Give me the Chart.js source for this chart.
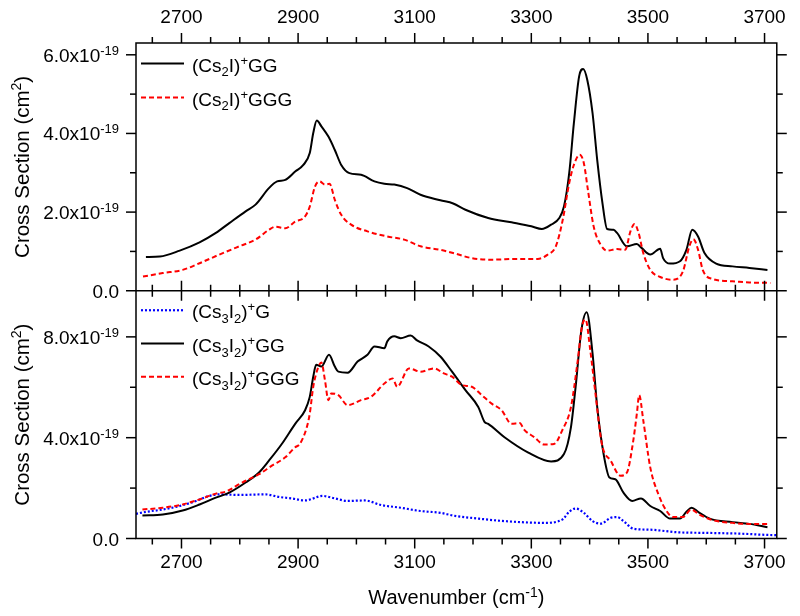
<!DOCTYPE html>
<html><head><meta charset="utf-8">
<script src="https://cdn.jsdelivr.net/npm/chart.js@4.4.1/dist/chart.umd.min.js"></script>
<style>html,body{margin:0;padding:0;background:#fff;}</style>
</head><body>
<canvas id="c" width="800" height="616"></canvas>
<script>
// ---------- axis settings ----------
const X_MIN = 2622, X_MAX = 3721;
const X_TICKS = [2700, 2900, 3100, 3300, 3500, 3700];
const X_MINOR_STEP = 50;
const Y_TOP_MAX = 6.3;
const Y_TOP_TICKS = [0, 2, 4, 6];
const Y_TOP_MINOR = [1, 3, 5];
const Y_BOT_MAX = 9.83;
const Y_BOT_TICKS = [0, 4, 8];
const Y_BOT_MINOR = [2, 6];
const Y_EXP = '-19';            // values below are in units of 1e-19 cm^2
const X_TITLE = 'Wavenumber (cm^{-1})';
const Y_TITLE = 'Cross Section (cm^2)';

// ---------- top panel: (Cs2I)+GG ----------
const top_gg_x = [2639,2663,2697,2731,2759,2782,2810,2827,2850,2864,2878,2895,2909,2920,2926,2932,2940,2952,2963,2974,2988,3008,3031,3048,3065,3087,3110,3144,3166,3187,3226,3266,3300,3318,3334,3348,3356,3365,3373,3382,3389,3396,3405,3413,3422,3430,3441,3447,3464,3481,3489,3504,3521,3526,3538,3555,3566,3576,3586,3597,3617,3645,3674,3705];
const top_gg_y = [0.86,0.87,1.02,1.23,1.47,1.72,2.02,2.19,2.61,2.78,2.82,3.03,3.20,3.50,4.01,4.33,4.18,3.92,3.58,3.20,2.99,2.95,2.78,2.72,2.70,2.61,2.44,2.30,2.22,2.06,1.85,1.74,1.64,1.57,1.68,1.85,2.14,2.99,4.26,5.45,5.64,5.36,4.52,3.33,2.23,1.57,1.55,1.47,1.13,1.19,1.09,0.92,1.07,0.83,0.69,0.75,1.04,1.55,1.38,0.96,0.69,0.62,0.58,0.53];
// ---------- top panel: (Cs2I)+GGG ----------
const top_ggg_x = [2634,2668,2702,2731,2765,2799,2827,2850,2861,2878,2895,2912,2920,2929,2937,2946,2954,2963,2974,2991,3019,3053,3082,3110,3144,3166,3198,3232,3277,3311,3328,3342,3354,3365,3373,3383,3390,3397,3407,3419,3430,3447,3461,3470,3477,3484,3492,3504,3521,3543,3560,3571,3578,3586,3594,3611,3645,3674,3710];
const top_ggg_y = [0.36,0.45,0.53,0.70,0.92,1.13,1.30,1.55,1.63,1.59,1.76,1.89,2.14,2.65,2.78,2.70,2.72,2.31,1.93,1.68,1.51,1.38,1.30,1.13,1.04,0.96,0.83,0.79,0.81,0.81,0.92,1.13,1.81,2.74,3.20,3.46,3.25,2.57,1.63,1.17,1.02,1.06,1.04,1.51,1.70,1.47,0.96,0.53,0.35,0.28,0.49,1.13,1.31,1.04,0.53,0.30,0.24,0.21,0.20];

// ---------- bottom panel: (Cs3I2)+G ----------
const bot_g_x = [2622,2640,2668,2697,2725,2748,2765,2799,2844,2867,2889,2912,2942,2963,2985,3014,3042,3076,3110,3144,3166,3209,3254,3322,3353,3365,3376,3390,3405,3419,3436,3447,3458,3475,3504,3549,3606,3662,3696,3721];
const bot_g_y = [0.98,1.06,1.15,1.29,1.49,1.69,1.75,1.73,1.75,1.65,1.59,1.51,1.69,1.59,1.49,1.51,1.33,1.22,1.09,1.02,0.91,0.79,0.69,0.62,0.75,1.06,1.19,1.02,0.69,0.59,0.82,0.85,0.69,0.39,0.35,0.25,0.22,0.19,0.15,0.13];
// ---------- bottom panel: (Cs3I2)+GG ----------
const bot_gg_x = [2633,2668,2702,2731,2759,2782,2810,2833,2850,2872,2895,2912,2920,2926,2931,2940,2953,2963,2969,2985,3002,3019,3031,3048,3053,3065,3076,3093,3104,3124,3144,3164,3187,3209,3220,3226,3254,3294,3334,3356,3368,3376,3386,3395,3405,3413,3424,3434,3444,3458,3473,3488,3504,3521,3538,3555,3566,3575,3586,3606,3645,3674,3705];
const bot_gg_y = [0.91,0.95,1.11,1.35,1.62,1.82,2.22,2.62,3.09,3.75,4.55,5.09,5.62,6.42,6.89,6.82,7.29,6.82,6.62,6.58,7.02,7.29,7.62,7.55,7.82,8.02,7.95,8.05,7.86,7.62,7.22,6.62,5.89,5.22,4.62,4.55,4.02,3.42,3.06,3.35,4.42,6.02,8.29,8.98,7.35,5.22,3.35,2.42,2.35,1.82,1.49,1.59,1.29,1.09,0.79,0.79,1.06,1.22,1.06,0.79,0.65,0.58,0.45];
// ---------- bottom panel: (Cs3I2)+GGG ----------
const bot_ggg_x = [2633,2668,2702,2731,2759,2776,2804,2833,2855,2878,2895,2903,2915,2920,2926,2935,2940,2946,2952,2957,2969,2985,3008,3025,3048,3062,3070,3090,3110,3133,3150,3164,3181,3198,3215,3232,3249,3266,3280,3288,3305,3322,3339,3353,3368,3379,3387,3393,3401,3410,3421,3436,3453,3464,3474,3481,3485,3492,3504,3518,3532,3543,3560,3574,3588,3611,3645,3674,3705];
const bot_ggg_y = [1.15,1.22,1.35,1.55,1.78,1.86,2.22,2.55,2.89,3.22,3.62,3.75,4.42,4.95,6.02,6.82,6.98,6.29,5.49,5.75,5.69,5.29,5.49,5.62,6.15,6.35,6.02,6.75,6.62,6.75,6.55,6.42,6.09,6.02,5.69,5.35,5.09,4.55,4.58,4.31,4.02,3.73,3.75,4.29,5.22,6.95,8.42,8.69,7.49,5.75,3.75,3.09,2.49,2.62,3.75,4.95,5.69,4.69,2.82,1.75,1.09,0.85,0.85,1.15,0.95,0.73,0.62,0.58,0.58];

const FONT = '"Liberation Sans", Arial, sans-serif';
const MAIN = 19, SMALL = 13;

const pts = (xs, ys) => xs.map((x, i) => ({x, y: ys[i]}));
const STY = {
  black: {color: '#000000', dash: [], width: 2},
  red:   {color: '#ff0000', dash: [5, 3], width: 2},
  blue:  {color: '#0000ff', dash: [2, 2], width: 2.2}
};
function ds(label, xs, ys, axis, sty, order) {
  return {label, data: pts(xs, ys), yAxisID: axis, xAxisID: 'x',
    borderColor: sty.color, borderDash: sty.dash, borderWidth: sty.width,
    pointRadius: 0, fill: false, cubicInterpolationMode: 'monotone', order, _sty: sty};
}
const datasets = [
  ds('(Cs_2I)^+GG',  top_gg_x,  top_gg_y,  'yTop', STY.black, 2),
  ds('(Cs_2I)^+GGG', top_ggg_x, top_ggg_y, 'yTop', STY.red, 1),
  ds('(Cs_3I_2)^+G',   bot_g_x,   bot_g_y,   'yBot', STY.blue, 3),
  ds('(Cs_3I_2)^+GG',  bot_gg_x,  bot_gg_y,  'yBot', STY.black, 2),
  ds('(Cs_3I_2)^+GGG', bot_ggg_x, bot_ggg_y, 'yBot', STY.red, 1)
];

// ---------- rich text helpers ----------
function parseRich(s) {
  const segs = []; let buf = ''; let i = 0;
  const push = (t, m) => { if (t) segs.push({t, m}); };
  while (i < s.length) {
    const c = s[i];
    if (c === '^' || c === '_') {
      push(buf, 0); buf = '';
      let t;
      if (s[i + 1] === '{') { const j = s.indexOf('}', i); t = s.slice(i + 2, j); i = j + 1; }
      else { t = s[i + 1]; i += 2; }
      push(t, c === '^' ? 1 : -1);
    } else { buf += c; i++; }
  }
  push(buf, 0);
  return segs;
}
function drawRich(ctx, str, x, cy, align, big, small) {
  big = big || MAIN; small = small || SMALL;
  const segs = parseRich(str);
  let w = 0;
  for (const s of segs) { ctx.font = (s.m ? small : big) + 'px ' + FONT; w += ctx.measureText(s.t).width; }
  let cx = align === 'right' ? x - w : align === 'center' ? x - w / 2 : x;
  const base = cy + big * 0.37;
  ctx.textBaseline = 'alphabetic'; ctx.textAlign = 'left'; ctx.fillStyle = '#000';
  for (const s of segs) {
    ctx.font = (s.m ? small : big) + 'px ' + FONT;
    const yy = s.m === 1 ? base - big * 0.37 : s.m === -1 ? base + big * 0.26 : base;
    ctx.fillText(s.t, cx, yy);
    cx += ctx.measureText(s.t).width;
  }
}

function seg(ctx, x1, y1, x2, y2) { ctx.beginPath(); ctx.moveTo(x1, y1); ctx.lineTo(x2, y2); ctx.stroke(); }

const framePlugin = {
  id: 'frame',
  afterDatasetsDraw(chart) {
    const {ctx, chartArea: a, scales} = chart;
    const xs = scales.x, yT = scales.yTop, yB = scales.yBot;
    const mid = yT.bottom;
    ctx.save();
    ctx.strokeStyle = '#000'; ctx.lineWidth = 1.5; ctx.setLineDash([]);
    ctx.strokeRect(a.left, a.top, a.right - a.left, a.bottom - a.top);
    seg(ctx, a.left, mid, a.right, mid);
    const MAJ = 10, MIN = 6;
    // x ticks (minor every 50)
    for (let v = Math.ceil(X_MIN / X_MINOR_STEP) * X_MINOR_STEP; v <= X_MAX; v += X_MINOR_STEP) {
      const px = xs.getPixelForValue(v);
      const L = X_TICKS.includes(v) ? MAJ : MIN;
      seg(ctx, px, a.top, px, a.top - L);
      seg(ctx, px, mid - L, px, mid + L);
      seg(ctx, px, a.bottom, px, a.bottom + L);
    }
    // y ticks
    const yt = (scale, vals, L) => vals.forEach(v => {
      const py = scale.getPixelForValue(v);
      seg(ctx, a.left, py, a.left - L, py);
      seg(ctx, a.right, py, a.right + L, py);
    });
    yt(yT, Y_TOP_TICKS, MAJ); yt(yT, Y_TOP_MINOR, MIN);
    yt(yB, Y_BOT_TICKS, MAJ); yt(yB, Y_BOT_MINOR, MIN);

    // y tick labels
    const lab = v => v === 0 ? '0.0' : v.toFixed(1) + 'x10^{' + Y_EXP + '}';
    Y_TOP_TICKS.forEach(v => drawRich(ctx, lab(v), a.left - 17, yT.getPixelForValue(v), 'right'));
    Y_BOT_TICKS.forEach(v => drawRich(ctx, lab(v), a.left - 17, yB.getPixelForValue(v), 'right'));

    // axis titles
    [yT, yB].forEach(s => {
      ctx.save();
      ctx.translate(21, (s.top + s.bottom) / 2);
      ctx.rotate(-Math.PI / 2);
      drawRich(ctx, Y_TITLE, 0, 0, 'center', 20.5, 14);
      ctx.restore();
    });
    drawRich(ctx, X_TITLE, (a.left + a.right) / 2, 597, 'center', 20, 14);

    // legends
    const legend = (items, y0, step) => items.forEach((d, i) => {
      const y = y0 + i * step;
      ctx.save();
      ctx.strokeStyle = d._sty.color; ctx.lineWidth = d._sty.width; ctx.setLineDash(d._sty.dash);
      seg(ctx, 141, y, 184, y);
      ctx.restore();
      drawRich(ctx, d.label, 192, y + 1, 'left');
    });
    const dsets = chart.data.datasets;
    legend(dsets.filter(d => d.yAxisID === 'yTop'), a.top + 20.5, 34);
    legend(dsets.filter(d => d.yAxisID === 'yBot'), mid + 19.5, 33.3);
    ctx.restore();
  }
};

const xTickOpts = (pad) => ({autoSkip: false, maxRotation: 0, minRotation: 0, padding: pad, color: '#000',
  font: {family: FONT, size: MAIN}, callback: v => String(v)});

new Chart(document.getElementById('c'), {
  type: 'line',
  data: {datasets},
  options: {
    responsive: false, animation: false, devicePixelRatio: 1,
    layout: {padding: {left: 0, right: 17, top: 0, bottom: 0}},
    plugins: {legend: {display: false}, tooltip: {enabled: false}},
    scales: {
      x: {type: 'linear', axis: 'x', position: 'bottom', min: X_MIN, max: X_MAX,
        grid: {display: false, drawTicks: false}, border: {display: false},
        ticks: xTickOpts(13),
        afterBuildTicks: s => { s.ticks = X_TICKS.map(v => ({value: v})); },
        afterFit: s => { s.height = 77.5; }},
      xTop: {type: 'linear', axis: 'x', position: 'top', min: X_MIN, max: X_MAX,
        grid: {display: false, drawTicks: false}, border: {display: false},
        ticks: xTickOpts(14),
        afterBuildTicks: s => { s.ticks = X_TICKS.map(v => ({value: v})); },
        afterFit: s => { s.height = 43; }},
      // stacked left axes: later-defined axis is placed on top
      yBot: {type: 'linear', axis: 'y', position: 'left', stack: 'panels', stackWeight: 1,
        min: 0, max: Y_BOT_MAX, ticks: {display: false},
        grid: {display: false, drawTicks: false}, border: {display: false},
        afterFit: s => { s.width = 136; }},
      yTop: {type: 'linear', axis: 'y', position: 'left', stack: 'panels', stackWeight: 1,
        min: 0, max: Y_TOP_MAX, ticks: {display: false},
        grid: {display: false, drawTicks: false}, border: {display: false},
        afterFit: s => { s.width = 136; }}
    }
  },
  plugins: [framePlugin]
});
</script>
</body></html>
